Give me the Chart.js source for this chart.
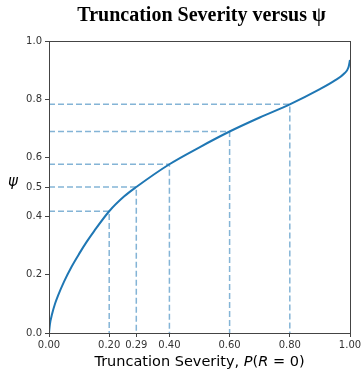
<!DOCTYPE html>
<html>
<head>
<meta charset="utf-8">
<script src="https://cdn.jsdelivr.net/npm/chart.js@4"></script>
<style>
  html, body { margin: 0; padding: 0; background: #fff; }
  .chart-wrapper { width: 364px; height: 371px; }
</style>
</head>
<body>
<div class="chart-wrapper"><canvas id="chart"></canvas></div>
<script>
// curve
const severity = [0, 0.003, 0.01, 0.02, 0.03, 0.05, 0.075, 0.1, 0.125, 0.15, 0.2, 0.25, 0.29, 0.4, 0.5, 0.6, 0.7, 0.8, 0.9, 0.95, 0.98, 0.995, 1.0];
const psi = [0, 0.03, 0.064, 0.1, 0.128, 0.176, 0.227, 0.271, 0.312, 0.349, 0.417, 0.468, 0.5, 0.578, 0.636, 0.69, 0.738, 0.783, 0.835, 0.865, 0.888, 0.91, 0.935];

// dashed guides
const guideX = [0.2, 0.29, 0.4, 0.6, 0.8];
const guidePsi = [0.417, 0.5, 0.578, 0.69, 0.783];

const xTicks = [0, 0.2, 0.29, 0.4, 0.6, 0.8, 1.0];
const yTicks = [0, 0.2, 0.4, 0.5, 0.6, 0.8, 1.0];

const curve = severity.map((x, i) => ({ x: x, y: psi[i] }));

const guides = guideX.map((x, i) => ({
  data: [{ x: 0, y: guidePsi[i] }, { x: x, y: guidePsi[i] }, { x: x, y: 0 }],
  borderColor: 'rgba(31, 119, 180, 0.55)',
  borderWidth: 1.5,
  borderDash: [6, 3],
  pointRadius: 0,
  tension: 0,
  order: 2,
}));

const textPlugin = {
  id: 'texts',
  afterDraw(chart) {
    const ctx = chart.ctx;
    const area = chart.chartArea;
    ctx.save();
    // box
    ctx.strokeStyle = '#444';
    ctx.lineWidth = 1;
    ctx.strokeRect(area.left + 0.5, area.top + 0.5, area.right - area.left, area.bottom - area.top);
    // title
    ctx.fillStyle = '#000';
    ctx.font = 'bold 20px "Liberation Serif", "Times New Roman", serif';
    ctx.textAlign = 'center';
    ctx.textBaseline = 'alphabetic';
    ctx.fillText('Truncation Severity versus \u03c8', (area.left + area.right) / 2 + 2, 21);
    // y label
    ctx.font = 'italic 15px "DejaVu Sans"';
    ctx.textBaseline = 'middle';
    ctx.fillText('\u03c8', 13, 182);
    // x label with italic parts
    const parts = [
      ['Truncation Severity, ', '14.5px "DejaVu Sans"'],
      ['P', 'italic 14.5px "DejaVu Sans"'],
      ['(', '14.5px "DejaVu Sans"'],
      ['R', 'italic 14.5px "DejaVu Sans"'],
      [' = 0)', '14.5px "DejaVu Sans"'],
    ];
    let total = 0;
    parts.forEach(p => { ctx.font = p[1]; total += ctx.measureText(p[0]).width; });
    let x = (area.left + area.right) / 2 - total / 2;
    ctx.textAlign = 'left';
    ctx.textBaseline = 'alphabetic';
    parts.forEach(p => {
      ctx.font = p[1];
      ctx.fillText(p[0], x, 366);
      x += ctx.measureText(p[0]).width;
    });
    ctx.restore();
  }
};

new Chart(document.getElementById('chart').getContext('2d'), {
  type: 'line',
  data: {
    datasets: [{
      data: curve,
      borderColor: '#1f77b4',
      borderWidth: 2,
      pointRadius: 0,
      cubicInterpolationMode: 'monotone',
      order: 1,
    }].concat(guides),
  },
  options: {
    responsive: true,
    maintainAspectRatio: false,
    animation: false,
    layout: { padding: { top: 41, right: 14, left: 0, bottom: 0 } },
    plugins: { legend: { display: false }, tooltip: { enabled: false }, title: { display: false } },
    scales: {
      x: {
        type: 'linear',
        min: 0,
        max: 1,
        afterBuildTicks: (scale) => { scale.ticks = xTicks.map(v => ({ value: v })); },
        afterFit: (scale) => { scale.height = 38; },
        border: { display: true, color: '#444', width: 1 },
        grid: { display: true, drawOnChartArea: false, drawTicks: true, tickLength: 4, color: '#444' },
        ticks: {
          color: '#333',
          padding: 2,
          maxRotation: 0,
          autoSkip: false,
          font: { family: 'DejaVu Sans', size: 10 },
          callback: (v) => v.toFixed(2),
        },
      },
      y: {
        type: 'linear',
        min: 0,
        max: 1,
        afterBuildTicks: (scale) => { scale.ticks = yTicks.map(v => ({ value: v })); },
        afterFit: (scale) => { scale.width = 49; },
        border: { display: true, color: '#444', width: 1 },
        grid: { display: true, drawOnChartArea: false, drawTicks: true, tickLength: 4, color: '#444' },
        ticks: {
          color: '#333',
          padding: 3,
          autoSkip: false,
          font: { family: 'DejaVu Sans', size: 10 },
          callback: (v) => v.toFixed(1),
        },
      },
    },
  },
  plugins: [textPlugin],
});
</script>
</body>
</html>
